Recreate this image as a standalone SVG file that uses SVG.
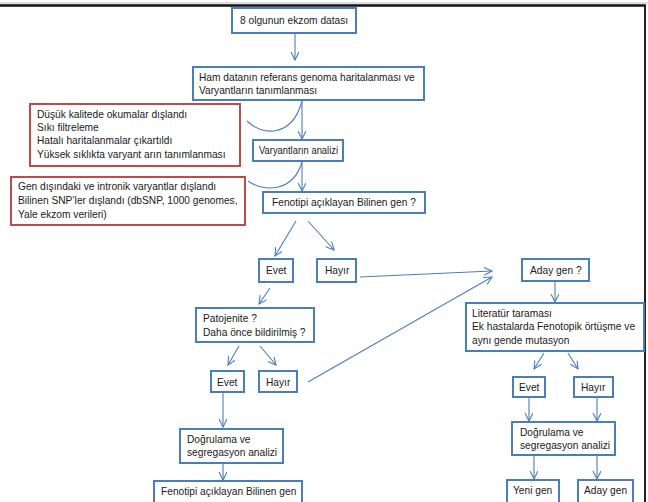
<svg xmlns="http://www.w3.org/2000/svg" width="648" height="502" viewBox="0 0 648 502">
<style>
.b{fill:#fff;stroke:#4A7EBB;stroke-width:2}
.r{fill:#fff;stroke:#BE4B48;stroke-width:2}
.t{font-family:"Liberation Sans",Arial,sans-serif;font-size:10.2px;fill:#1a1a1a}
.tr{font-family:"Liberation Sans",Arial,sans-serif;font-size:10.2px;fill:#1a1a1a}
.c{fill:none;stroke:#4A7EBB;stroke-width:1.1}
</style>
<defs>
<marker id="ah" markerUnits="userSpaceOnUse" markerWidth="12" markerHeight="12" refX="8" refY="4" orient="auto">
<path d="M0,0 L8,4 L0,8" fill="none" stroke="#4A7EBB" stroke-width="1.1"/>
</marker>
</defs>
<rect x="0" y="0" width="648" height="502" fill="#fff"/>
<line x1="0" y1="3" x2="648" y2="3" stroke="#bbb" stroke-width="1"/>
<line x1="0" y1="5.5" x2="646" y2="5.5" stroke="#111" stroke-width="2.5"/>
<line x1="645" y1="5" x2="645" y2="502" stroke="#222" stroke-width="2"/>

<g id="connectors">
<line class="c" x1="295" y1="33" x2="295" y2="60" marker-end="url(#ah)"/>
<line class="c" x1="302" y1="100" x2="302" y2="139" marker-end="url(#ah)"/>
<path class="c" d="M247,121 C262,136 292,138 302,101"/>
<line class="c" x1="302" y1="161" x2="302" y2="191" marker-end="url(#ah)"/>
<path class="c" d="M248,181 C263,192 293,193 302,162"/>
<line class="c" x1="296" y1="221" x2="275" y2="256" marker-end="url(#ah)"/>
<line class="c" x1="308" y1="221" x2="334" y2="250" marker-end="url(#ah)"/>
<line class="c" x1="360" y1="277" x2="492" y2="271" marker-end="url(#ah)"/>
<line class="c" x1="270" y1="288" x2="259" y2="304" marker-end="url(#ah)"/>
<line class="c" x1="239" y1="346" x2="228" y2="365" marker-end="url(#ah)"/>
<line class="c" x1="260" y1="346" x2="276" y2="365" marker-end="url(#ah)"/>
<line class="c" x1="308" y1="382" x2="492" y2="277" marker-end="url(#ah)"/>
<line class="c" x1="223" y1="392" x2="223" y2="427" marker-end="url(#ah)"/>
<line class="c" x1="223" y1="463" x2="223" y2="480" marker-end="url(#ah)"/>
<line class="c" x1="555" y1="281" x2="555" y2="302" marker-end="url(#ah)"/>
<line class="c" x1="544" y1="353" x2="534" y2="369" marker-end="url(#ah)"/>
<line class="c" x1="568" y1="353" x2="578" y2="369" marker-end="url(#ah)"/>
<line class="c" x1="529" y1="397" x2="529" y2="421" marker-end="url(#ah)"/>
<line class="c" x1="597" y1="397" x2="597" y2="421" marker-end="url(#ah)"/>
<line class="c" x1="534" y1="455" x2="534" y2="479" marker-end="url(#ah)"/>
<line class="c" x1="597" y1="455" x2="597" y2="479" marker-end="url(#ah)"/>
</g>

<g id="n1"><rect class="b" x="232" y="8" width="124" height="25"/><text class="t" x="240" y="24">8 olgunun ekzom datası</text></g>
<g id="n2"><rect class="b" x="193" y="67" width="231" height="33"/><text class="t" x="199" y="81">Ham datanın referans genoma haritalanması ve</text><text class="t" x="199" y="94">Varyantların tanımlanması</text></g>
<g id="f1"><rect class="r" x="30" y="104" width="210" height="62"/><text class="t" x="37" y="118">Düşük kalitede okumalar dışlandı</text><text class="t" x="37" y="131">Sıkı filtreleme</text><text class="t" x="37" y="144">Hatalı haritalanmalar çıkartıldı</text><text class="t" x="37" y="158">Yüksek sıklıkta varyant arın tanımlanması</text></g>
<g id="n3"><rect class="b" x="253" y="140" width="90" height="21"/><text class="t" x="259" y="154" textLength="79" lengthAdjust="spacingAndGlyphs">Varyantların analizi</text></g>
<g id="f2"><rect class="r" x="11" y="177" width="234" height="48"/><text class="tr" x="18" y="190">Gen dışındaki ve intronik varyantlar dışlandı</text><text class="tr" x="18" y="204">Bilinen SNP’ler dışlandı (dbSNP, 1000 genomes,</text><text class="tr" x="18" y="218">Yale ekzom verileri)</text></g>
<g id="n4"><rect class="b" x="263" y="192" width="162" height="21"/><text class="t" x="272" y="206">Fenotipi açıklayan Bilinen gen ?</text></g>
<g id="n5"><rect class="b" x="259" y="259" width="34" height="23"/><text class="t" x="266" y="274">Evet</text></g>
<g id="n6"><rect class="b" x="317" y="259" width="39" height="23"/><text class="t" x="325" y="274">Hayır</text></g>
<g id="n7"><rect class="b" x="522" y="259" width="67" height="22"/><text class="t" x="530" y="274">Aday gen ?</text></g>
<g id="n8"><rect class="b" x="196" y="308" width="118" height="34"/><text class="t" x="203" y="322">Patojenite ?</text><text class="t" x="203" y="336">Daha önce bildirilmiş ?</text></g>
<g id="n9"><rect class="b" x="211" y="371" width="33" height="21"/><text class="t" x="217" y="386">Evet</text></g>
<g id="n10"><rect class="b" x="259" y="371" width="38" height="21"/><text class="t" x="266" y="386">Hayır</text></g>
<g id="n11"><rect class="b" x="466" y="303" width="178" height="48"/><text class="t" x="472" y="317">Literatür taraması</text><text class="t" x="472" y="330">Ek hastalarda Fenotopik örtüşme ve</text><text class="t" x="472" y="344">aynı gende mutasyon</text></g>
<g id="n12"><rect class="b" x="513" y="377" width="32" height="20"/><text class="t" x="519" y="391">Evet</text></g>
<g id="n13"><rect class="b" x="574" y="377" width="39" height="20"/><text class="t" x="581" y="391">Hayır</text></g>
<g id="n14"><rect class="b" x="180" y="429" width="103" height="34"/><text class="t" x="187" y="443">Doğrulama ve</text><text class="t" x="187" y="456">segregasyon analizi</text></g>
<g id="n15"><rect class="b" x="154" y="481" width="148" height="30"/><text class="t" x="161" y="495">Fenotipi açıklayan Bilinen gen</text></g>
<g id="n16"><rect class="b" x="512" y="422" width="103" height="33"/><text class="t" x="520" y="436">Doğrulama ve</text><text class="t" x="520" y="449">segregasyon analizi</text></g>
<g id="n17"><rect class="b" x="507" y="480" width="52" height="30"/><text class="t" x="513" y="494">Yeni gen</text></g>
<g id="n18"><rect class="b" x="578" y="480" width="55" height="30"/><text class="t" x="584" y="494">Aday gen</text></g>
</svg>
